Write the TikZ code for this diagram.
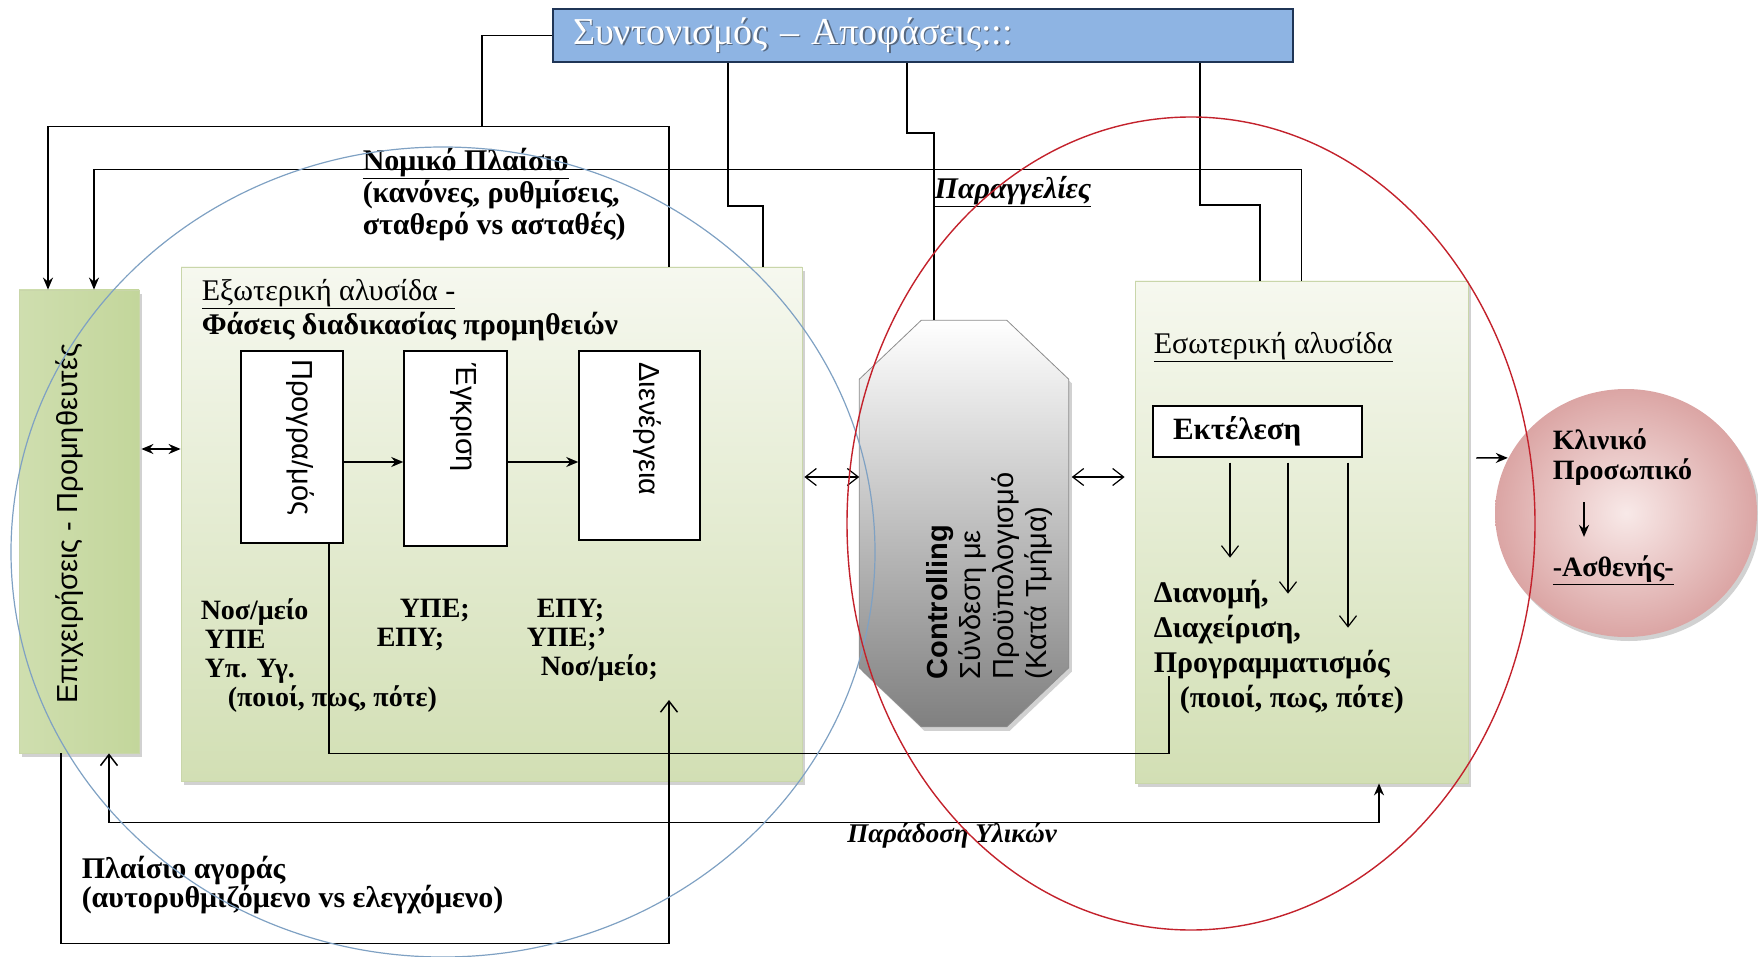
\documentclass[tikz,border=0pt]{standalone}
\usepackage{fontspec}
\setmainfont{Liberation Serif}
\setsansfont{Liberation Sans}
\usepackage{tikz}
\usetikzlibrary{positioning,calc,shadows,shapes.geometric,arrows.meta}
\definecolor{coordblue}{HTML}{8EB4E3}
\definecolor{coordedge}{HTML}{1F3556}
\definecolor{greentop}{HTML}{F6F8EF}
\definecolor{greenbot}{HTML}{D2DFB4}
\definecolor{greenedge}{HTML}{C9D6AA}
\definecolor{greendark}{HTML}{C3D69B}
\definecolor{greenlight}{HTML}{EFF4E4}
\definecolor{pinkin}{HTML}{F8E9E8}
\definecolor{pinkout}{HTML}{DBA5A4}
\definecolor{ringblue}{HTML}{7FA1C3}
\definecolor{ringred}{HTML}{C3222C}
\newcommand{\shadowtext}[1]{\makebox[0pt][l]{\kern1.5pt\raisebox{-1.5pt}{\textcolor{coordedge!75}{#1}}}\textcolor{white}{#1}}
\tikzset{%
  soft shadow/.style={
    drop shadow={shadow xshift=3pt, shadow yshift=-4pt, opacity=0.3, fill=black!60}
  },
  chain box/.style={
    draw=greenedge,
    line width=0.8pt,
    top color=greentop,
    bottom color=greenbot,
    soft shadow,
    inner sep=0pt
  },
  phase box/.style={
    draw,
    fill=white,
    line width=1.5pt,
    inner sep=0pt
  },
  phase text/.style={
    rotate=-90,
    anchor=west,
    font={\sffamily\fontsize{29}{30}\selectfont}
  },
  bold text/.style={
    align=left,
    inner sep=0pt,
    font={\bfseries\fontsize{30}{32}\selectfont}
  },
  open arrow/.style={-{Straight Barb[length=11pt,width=17pt]}},
  open both/.style={{Straight Barb[length=11pt,width=17pt]}-{Straight Barb[length=11pt,width=17pt]}},
}

\begin{document}
\begin{tikzpicture}[x=1pt, y=-1pt, > = {Stealth[length=12pt, width=10pt]}, line width=1.5pt]
\useasboundingbox (0,0) rectangle (1758,957);

    \node[draw=coordedge, fill=coordblue, line width=2pt, minimum height=53pt, text width=700pt,
          inner xsep=20pt, inner ysep=0pt, align=left, font={\fontsize{38}{40}\selectfont}]
          (coord) at (923,35.5) {\shadowtext{Συντονισμός – Αποφάσεις:::}};

    \node[draw=greenedge, line width=0.8pt, left color=greendark!80, middle color=greenlight, right color=greendark,
          soft shadow, minimum width=120pt, minimum height=463pt, inner sep=0pt] (suppliers) at (79,521.5) {};
    \node[rotate=90, font={\sffamily\fontsize{29}{30}\selectfont}] (supptxt) at (70,523.5) {Επιχειρήσεις - Προμηθευτές};

    \node[chain box, minimum width=621pt, minimum height=514pt] (extchain) at (491.5,524) {};
    \node[phase box, minimum width=102pt, minimum height=192pt] (phaseA) at (292,447) {};
    \node[phase box, minimum width=103pt, minimum height=195pt] (phaseB) at (455.5,448.5) {};
    \node[phase box, minimum width=121pt, minimum height=189pt] (phaseC) at (639.5,445.5) {};
    \node[phase text] (phaseAtxt) at ([xshift=8pt,yshift=-5pt]phaseA.north) {Προγρα/μός};
    \node[phase text] (phaseBtxt) at ([xshift=7.5pt,yshift=-9pt]phaseB.north) {Έγκριση};
    \node[phase text] (phaseCtxt) at ([xshift=7.5pt,yshift=-8pt]phaseC.north) {Διενέργεια};

    \node[minimum width=208pt, minimum height=405pt, inner sep=0pt] (ctrl) at (964,523.5) {};
    \path[draw=black!45, line width=0.8pt, top color=white, bottom color=black!50, soft shadow]
          ($(ctrl.north west)+(0,59)$) -- ($(ctrl.north west)+(62,0)$) -- ($(ctrl.north east)+(-62,0)$)
          -- ($(ctrl.north east)+(0,59)$) -- ($(ctrl.south east)+(0,-59)$) -- ($(ctrl.south east)+(-62,0)$)
          -- ($(ctrl.south west)+(62,0)$) -- ($(ctrl.south west)+(0,-59)$) -- cycle;
    \node[rotate=90, anchor=west, align=left, inner sep=0pt, font={\sffamily\fontsize{29}{33}\selectfont}]
          (ctrltxt) at (989,680) {\textbf{Controlling}\\Σύνδεση με\\Προϋπολογισμό\\(Κατά Τμήμα)};

    \node[chain box, minimum width=333pt, minimum height=502pt] (intchain) at (1301.5,532) {};
    \node[phase box, line width=1.3pt, minimum width=209pt, minimum height=51pt, text width=169pt,
          inner xsep=20pt, align=left, font={\bfseries\fontsize{31}{32}\selectfont}] (exec) at (1257.5,431.5) {Εκτέλεση};

    \node[ellipse, minimum width=262pt, minimum height=248pt, inner sep=0pt, inner color=pinkin,
          outer color=pinkout, soft shadow] (clinic) at (1626,513) {};

    \coordinate (jtop) at (482,127);
    \coordinate (planend) at (1169,676);
    \coordinate (mktend) at (669,700);
    \coordinate (s1) at ($(suppliers.east)+(2,-72.5)$);
    \coordinate (e1) at ($(extchain.east)+(2,-47)$);
    \coordinate (c1) at ($(ctrl.east)+(3,-46.5)$);
    \coordinate (i1) at ($(intchain.east)+(8,-74)$);

    \draw[->] ($(extchain.north)+(177.5,0)$) -- ++(0,-140) -| ($(suppliers.north)+(-31,0)$);
    \draw (coord.west) -| (jtop);
    \draw[<-] ($(suppliers.north)+(15,0)$) -- ++(0,-120) -| (intchain.north);
    \draw ($(coord.south)+(-195,0)$) -- ++(0,143) -| ($(extchain.north)+(271.5,0)$);
    \draw ($(coord.south)+(-16,0)$) -- ++(0,70) -| ($(ctrl.north)+(-30,0)$);
    \draw ($(coord.south)+(277,0)$) -- ++(0,142) -| ($(intchain.north)+(-41.5,0)$);

    \draw[<->] (s1) -- (s1 -| extchain.west);
    \draw[->] ($(phaseA.east)+(0,15)$) -- ($(phaseB.west)+(0,13.5)$);
    \draw[->] ($(phaseB.east)+(0,13.5)$) -- ($(phaseC.west)+(0,16.5)$);
    \draw[line width=1.3pt] ($(phaseA.south)+(37,0)$) -- ++(0,210) -| (planend);
    \draw[open both, line width=1.2pt] (e1) -- (e1 -| ctrl.west);
    \draw[open both, line width=1.2pt] (c1) -- ($(c1 -| intchain.west)+(-10,0)$);
    \draw[->] (i1) -- (clinic.155);
    \foreach \dx/\len in {-27.5/95, 30.5/131, 90.5/165}
        \draw[open arrow, line width=1.2pt] ([xshift=\dx,yshift=-5pt]exec.south) -- ++(0,\len);
    \draw[{Straight Barb[length=11pt,width=17pt]}-{Stealth[length=12pt,width=10pt]}]
          ($(suppliers.south)+(30,0)$) -- ++(0,69) -| ($(intchain.south)+(77.5,0)$);
    \draw[open arrow] ($(suppliers.south)+(-18,0)$) -- ++(0,190) -| (mktend);

    \node[bold text, anchor=north west] (legal) at (362,147) {\underline{Νομικό Πλαίσιο}\\(κανόνες, ρυθμίσεις,\\σταθερό vs ασταθές)};
    \node[font={\bfseries\itshape\fontsize{30}{32}\selectfont}] (orders) at (1013,192) {\underline{Παραγγελίες}};
    \node[bold text, anchor=north west, font={\fontsize{30}{34}\selectfont}] (exttitle) at (201,279)
          {\underline{Εξωτερική αλυσίδα -}\\\textbf{Φάσεις διαδικασίας προμηθειών}};
    \node[bold text, anchor=north west, font={\bfseries\fontsize{28}{29}\selectfont}] (colA) at (200,598)
          {Νοσ/μείο\\\hspace*{4pt}ΥΠΕ\\\hspace*{4pt}Υπ. Υγ.\\\hspace*{27pt}(ποιοί, πως, πότε)};
    \node[bold text, anchor=north west, font={\bfseries\fontsize{28}{29}\selectfont}] (colB) at (376,598)
          {\hspace*{23pt}ΥΠΕ;\\ΕΠΥ;};
    \node[bold text, anchor=north west, font={\bfseries\fontsize{28}{29}\selectfont}] (colC) at (526,598)
          {\hspace*{10pt}ΕΠΥ;\\ΥΠΕ;'\\\hspace*{14pt}Νοσ/μείο;};
    \node[bold text, anchor=west, font={\fontsize{30}{32}\selectfont}] (inttitle) at (1153,347) {\underline{Εσωτερική αλυσίδα}};
    \node[bold text, anchor=north west, font={\bfseries\fontsize{30}{35}\selectfont}] (introws) at (1153,579)
          {Διανομή,\\Διαχείριση,\\Προγραμματισμός\\\hspace*{26pt}(ποιοί, πως, πότε)};
    \node[bold text, anchor=north west, font={\bfseries\fontsize{28}{30}\selectfont}] (staff) at (1552,428) {Κλινικό\\Προσωπικό};
    \node[bold text, anchor=west, font={\bfseries\fontsize{28}{30}\selectfont}] (patient) at (1552,570) {\underline{-Ασθενής-}};
    \draw[->] ([xshift=32pt,yshift=-16pt]staff.south west) -- ([xshift=32pt,yshift=18pt]patient.north west);
    \node[bold text, anchor=north west, font={\bfseries\fontsize{30}{29}\selectfont}] (market) at (81,855)
          {Πλαίσιο αγοράς\\(αυτορυθμιζόμενο vs ελεγχόμενο)};
    \node[font={\bfseries\itshape\fontsize{27}{28}\selectfont}] (delivery) at (952,835) {Παράδοση Υλικών};

    \draw[ringblue, line width=1.2pt] (443,552) ellipse [x radius=432pt, y radius=405pt];
    \draw[ringred, line width=1.4pt] (1191,523.5) ellipse [x radius=344pt, y radius=406.5pt];
\end{tikzpicture}
\end{document}
